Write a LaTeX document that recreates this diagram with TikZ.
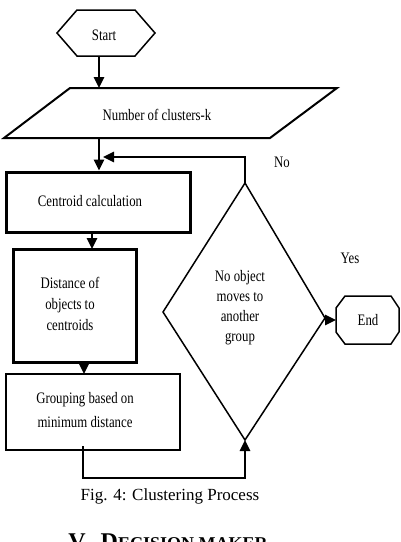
\documentclass[tikz,border=0pt]{standalone}
\usepackage{fontspec}
\setmainfont{Liberation Serif}
\newfontfamily\condfont[FakeStretch=0.8]{Liberation Serif}
\usetikzlibrary{arrows.meta}
\tikzset{
  lbl/.style={font=\condfont\fontsize{16}{20}\selectfont, inner sep=0pt, align=center},
  conn/.style={line width=2.5pt, -{Triangle[width=10pt,length=11pt]}},
  plainconn/.style={line width=2.5pt},
  boxthick/.style={draw, line width=3pt, inner sep=0pt},
  boxmed/.style={draw, line width=2pt, inner sep=0pt},
}
\begin{document}
\begin{tikzpicture}[x=1pt,y=-1pt]
\useasboundingbox (0,0) rectangle (400,542);
\clip (0,0) rectangle (400,542);
% Start hexagon
\draw[line width=1.5pt] (57,33) -- (77,10) -- (135,10) -- (155,33) -- (135,56) -- (77,56) -- cycle;
\node[lbl] (start) at (104,35) {Start};
\coordinate (startb) at (99,56);
% parallelogram
\draw[line width=2pt] (70,88) -- (337,88) -- (270,138) -- (4,138) -- cycle;
\node[lbl] (num) at (157,115) {Number of clusters-k};
\coordinate (numt) at (99,88);
\coordinate (numb) at (99,138);
% boxes
\node[boxthick, minimum width=184pt, minimum height=60pt] (cent) at (98,202) {};
\node[lbl] (centt) at (90,201) {Centroid calculation};
\node[boxthick, minimum width=123pt, minimum height=113pt] (dist) at (74.5,305.5) {};
\node[lbl, font=\condfont\fontsize{16}{21}\selectfont] (distt) at (70,304) {Distance of\\objects to\\centroids};
\node[boxmed, minimum width=174pt, minimum height=76pt] (grp) at (93,412) {};
\node[lbl, font=\condfont\fontsize{16}{24}\selectfont] (grpt) at (85,410) {Grouping based on\\minimum distance};
% diamond
\coordinate (dtop) at (245,183);
\coordinate (dleft) at (163,312);
\coordinate (dright) at (325,318);
\coordinate (dbot) at (245,440);
\draw[line width=1.5pt] (dtop) -- (dright) -- (dbot) -- (dleft) -- cycle;
\node[lbl, font=\condfont\fontsize{16}{20}\selectfont] (dtext) at (240,308) {No object\\moves to\\another\\group};
% End
\draw[line width=1.5pt] (345,296) -- (391,296) -- (399,308) -- (399,332) -- (391,344) -- (345,344) -- (336,332) -- (336,308) -- cycle;
\node[lbl] (endt) at (368,320) {End};
\coordinate (endw) at (336,320);
% labels
\node[lbl] (no) at (282,162) {No};
\node[lbl] (yes) at (350,258) {Yes};
% connectors
\coordinate (c1) at (92,232);
\coordinate (c2) at (92,249);
\coordinate (d1) at (84,362);
\coordinate (d2) at (84,374);
\coordinate (g1) at (83,446);
\coordinate (loopc) at (245,157);
\coordinate (loopend) at (103,157);
\draw[conn] (startb) -- (numt);
\draw[conn] (numb) -- (cent.north -| numb);
\draw[conn] (dtop) -- (loopc) -- (loopend);
\draw[conn] (c1) -- (c2);
\draw[conn] (d1) -- (d2);
\draw[conn] (g1) -- (83,478) -| (dbot);
\draw[conn] (dright |- endw) -- (endw);
% caption
\node[font=\fontsize{17}{20}\selectfont, inner sep=0pt] (cap) at (170,496) {Fig. 4: Clustering Process};
\node[font=\bfseries, inner sep=0pt, anchor=base] (sec) at (168,549) {\fontsize{24}{28}\selectfont V.\ \ D\fontsize{18}{22}\selectfont ECISION MAKER};
\end{tikzpicture}
\end{document}
